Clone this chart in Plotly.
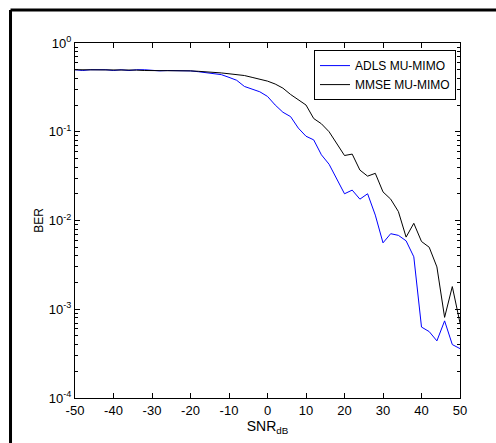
import plotly.graph_objects as go

# SNR sweep in dB
snr_db = list(range(-50, 51, 2))

# Bit error rate of the proposed ADLS MU-MIMO detector (one row = 10 SNR points)
ber_adls = [
    0.50, 0.49, 0.50, 0.50, 0.50, 0.49, 0.50, 0.49, 0.50, 0.50,          # -50 .. -32
    0.49, 0.485, 0.49, 0.49, 0.485, 0.485, 0.475, 0.465, 0.455, 0.44,    # -30 .. -12
    0.41, 0.38, 0.324, 0.30, 0.282, 0.25, 0.20, 0.166, 0.148, 0.11,      # -10 .. 8
    0.089, 0.081, 0.055, 0.043, 0.0295, 0.020, 0.022, 0.0174, 0.020, 0.0115,   # 10 .. 28
    0.0056, 0.0071, 0.0068, 0.0059, 0.0039, 0.00063, 0.00056, 0.00044, 0.00074, 0.00040,  # 30 .. 48
    0.00036,                                                              # 50
]

# Bit error rate of the MMSE MU-MIMO reference detector
ber_mmse = [
    0.50, 0.50, 0.50, 0.50, 0.50, 0.50, 0.50, 0.50, 0.495, 0.49,         # -50 .. -32
    0.49, 0.49, 0.49, 0.49, 0.488, 0.485, 0.48, 0.475, 0.47, 0.46,       # -30 .. -12
    0.45, 0.44, 0.43, 0.41, 0.393, 0.372, 0.345, 0.31, 0.263, 0.229,     # -10 .. 8
    0.20, 0.141, 0.123, 0.10, 0.074, 0.054, 0.056, 0.037, 0.0316, 0.034, # 10 .. 28
    0.021, 0.0174, 0.0126, 0.0065, 0.0093, 0.0058, 0.0050, 0.0030, 0.00081, 0.0018,  # 30 .. 48
    0.0007,                                                               # 50
]

x_ticks = [-50, -40, -30, -20, -10, 0, 10, 20, 30, 40, 50]
y_ticks = [1e-4, 1e-3, 1e-2, 1e-1, 1e0]
y_tick_text = ["10<sup>-4</sup>", "10<sup>-3</sup>", "10<sup>-2</sup>",
               "10<sup>-1</sup>", "10<sup>0</sup>"]
y_minor = [k * 10.0 ** e for e in range(-4, 0) for k in range(2, 10)]

font_main = "Liberation Sans Narrow, Liberation Sans, Arial, sans-serif"

fig = go.Figure()
fig.add_trace(go.Scatter(
    x=snr_db, y=ber_adls, mode="lines", name="ADLS MU-MIMO",
    line=dict(color="#0000ff", width=1),
))
fig.add_trace(go.Scatter(
    x=snr_db, y=ber_mmse, mode="lines", name="MMSE MU-MIMO",
    line=dict(color="#000000", width=1),
))

axis_common = dict(
    showline=True, linecolor="#000000", linewidth=1, mirror="ticks",
    ticks="inside", ticklen=5, tickcolor="#000000", tickwidth=1,
    showgrid=False, zeroline=False,
    tickfont=dict(family=font_main, size=13, color="#000000"),
)

fig.update_xaxes(
    range=[-50, 50], tickvals=x_ticks, ticktext=[str(v) for v in x_ticks],
    title=dict(text="SNR<sub>dB</sub>", standoff=4,
               font=dict(family=font_main, size=14, color="#000000")),
    **axis_common,
)
fig.update_yaxes(
    type="log", range=[-4, 0], tickvals=y_ticks, ticktext=y_tick_text,
    minor=dict(tickvals=y_minor, ticks="inside", ticklen=3,
               tickcolor="#000000", showgrid=False),
    title=dict(text="BER", standoff=2,
               font=dict(family=font_main, size=12, color="#000000")),
    **axis_common,
)

# right-hand copy of the log axis, carrying the mirrored minor ticks
fig.add_trace(go.Scatter(x=[None], y=[None], yaxis="y2", showlegend=False,
                         hoverinfo="skip"))
fig.update_layout(yaxis2=dict(
    type="log", range=[-4, 0], overlaying="y", side="right",
    tickvals=y_ticks, ticks="inside", ticklen=5, tickcolor="#000000",
    showticklabels=False, showgrid=False, zeroline=False, showline=False,
    minor=dict(tickvals=y_minor, ticks="inside", ticklen=3,
               tickcolor="#000000", showgrid=False),
))

fig.update_layout(
    width=496, height=443,
    margin=dict(l=75, r=36, t=43, b=45),
    paper_bgcolor="#ffffff", plot_bgcolor="#ffffff",
    showlegend=True,
    legend=dict(
        x=0.9896, y=0.98, xanchor="right", yanchor="top",
        bordercolor="#000000", borderwidth=1, bgcolor="#ffffff",
        font=dict(family="Liberation Sans, Arial, sans-serif", size=12, color="#000000"),
        tracegroupgap=0, itemwidth=30,
    ),
    shapes=[
        # frame edges along the top and left of the figure
        dict(type="line", xref="paper", yref="paper",
             x0=-0.1675, x1=1.2, y0=1.093, y1=1.093,
             line=dict(color="#000000", width=3), layer="above"),
        dict(type="line", xref="paper", yref="paper",
             x0=-0.1675, x1=-0.1675, y0=1.093, y1=-0.2,
             line=dict(color="#000000", width=3), layer="above"),
    ],
)

fig.write_html("out.html")
